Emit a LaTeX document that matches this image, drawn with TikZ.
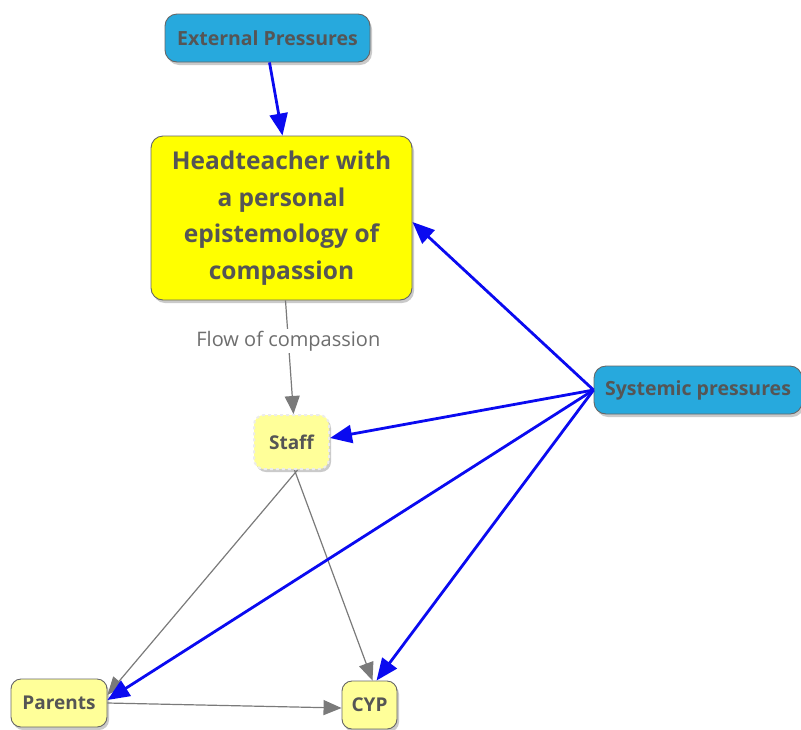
\documentclass[tikz,border=0pt]{standalone}
\usepackage{fontspec}
\setmainfont{Open Sans}
\usetikzlibrary{arrows.meta,shadows}
\definecolor{pressure}{HTML}{27A9DD}
\definecolor{headfill}{HTML}{FFFF00}
\definecolor{softfill}{HTML}{FFFF99}
\definecolor{labeltext}{HTML}{555555}
\definecolor{flowgray}{HTML}{7A7A7A}
\definecolor{pushblue}{HTML}{0A0AF0}
\tikzset{
  boxbase/.style={draw=gray!80!black, line width=0.9pt, text=labeltext,
    font=\bfseries, align=center, inner sep=0pt,
    drop shadow={shadow xshift=2pt, shadow yshift=-3pt, fill=black!35, opacity=0.6}},
  pressurebox/.style={boxbase, fill=pressure, rounded corners=12pt,
    minimum height=48pt, font=\fontsize{19.5}{23}\selectfont\bfseries},
  headbox/.style={boxbase, fill=headfill, rounded corners=12pt,
    minimum width=261pt, minimum height=164pt,
    font=\fontsize{24.5}{36.5}\selectfont\bfseries},
  smallbox/.style={boxbase, fill=softfill, rounded corners=10pt,
    minimum height=48pt, font=\fontsize{19}{22}\selectfont\bfseries},
  pushline/.style={draw=pushblue, line width=2.8pt,
    -{Triangle[length=22pt,width=18pt]}},
  flowline/.style={draw=flowgray, line width=1.2pt,
    -{Triangle[length=18pt,width=15pt]}},
  flowlabel/.style={fill=white, text=flowgray!90!black, inner sep=2pt,
    font=\fontsize{20}{24}\selectfont}
}
\begin{document}
\begin{tikzpicture}[x=1pt,y=-1pt]
\useasboundingbox (0,0) rectangle (801,729);

% nodes
\node[pressurebox, minimum width=205pt] (ext) at (267.5,38) {External Pressures};
\node[headbox] (head) at (281.5,218)
  {Headteacher with\\a personal\\epistemology of\\compassion};
\node[smallbox, minimum width=75pt, minimum height=54pt,
      draw=white!85!gray, dash pattern=on 3pt off 3pt, line width=2pt] (staff) at (291.5,442) {Staff};
\node[pressurebox, minimum width=208pt] (sys) at (698,390) {Systemic pressures};
\node[smallbox, minimum width=96pt] (par) at (59,703) {Parents};
\node[smallbox, minimum width=55pt] (cyp) at (369.5,705) {CYP};

% flow of compassion (grey)
\draw[flowline] ([xshift=4pt]head.south) -- ([xshift=2pt]staff.north)
  node[pos=0.36, flowlabel] (flowtxt) {Flow of compassion};
\draw[flowline] ([xshift=6pt]staff.south) -- ([yshift=8pt]par.east);
\draw[flowline] ([xshift=3pt]staff.south) -- ([xshift=3pt]cyp.north);
\draw[flowline] (par.east) -- ([yshift=-3pt]cyp.west);

% pressures (blue)
\draw[pushline] ([xshift=2pt]ext.south) -- ([xshift=1pt]head.north);
\draw[pushline] (sys.west) -- ([yshift=-4pt]head.east);
\draw[pushline] (sys.west) -- ([yshift=4pt]staff.east);
\draw[pushline] (sys.west) -- ([yshift=3pt]par.east);
\draw[pushline] (sys.west) -- ([xshift=7pt]cyp.north);
\end{tikzpicture}
\end{document}
